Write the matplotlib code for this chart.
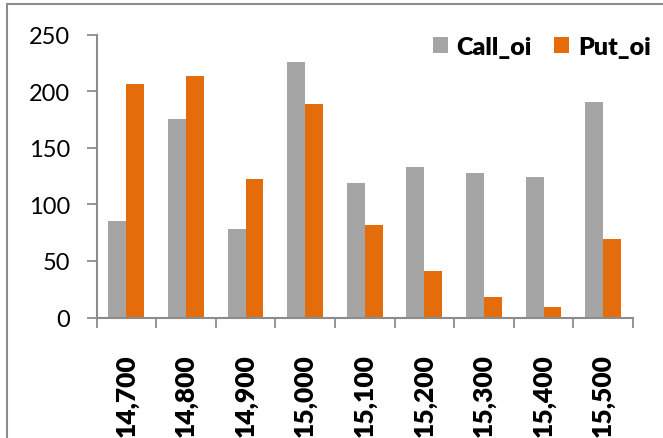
import matplotlib.pyplot as plt
import numpy as np
from matplotlib.patches import Rectangle

strikes = ["14,700", "14,800", "14,900", "15,000", "15,100",
           "15,200", "15,300", "15,400", "15,500"]
call_oi = [85, 175, 78, 226, 119, 133, 128, 124, 190]
put_oi = [206, 213, 122, 189, 82, 41, 18, 9, 69]

plt.rcParams['font.family'] = ['Lato', 'DejaVu Sans']

fig = plt.figure(figsize=(6.63, 4.39), dpi=100)
ax = fig.add_axes([96.5 / 663, 1 - 318.5 / 439, (633 - 96.5) / 663, (318.5 - 35.5) / 439])

# chart area border (runs off the right and bottom edge)
fig.patches.append(Rectangle((7 / 663, -0.1), 1.0, 1 - 5 / 439 + 0.1,
                             transform=fig.transFigure, fill=False,
                             edgecolor='#8c8c8c', linewidth=1.5))

x = np.arange(len(strikes))
w = 0.3
ax.bar(x - w / 2, call_oi, w, color='#a5a5a5', label='Call_oi')
ax.bar(x + w / 2, put_oi, w, color='#e46c0a', label='Put_oi')

ax.set_xlim(-0.5, len(strikes) - 0.5)
ax.set_ylim(0, 250)
ax.set_yticks(range(0, 251, 50))
ax.tick_params(axis='y', labelsize=17, length=7, width=1.3, color='#8c8c8c', pad=12)

ax.set_xticks(np.arange(len(strikes) + 1) - 0.5)
ax.set_xticklabels([])
ax.set_xticks(x, minor=True)
ax.set_xticklabels(strikes, minor=True, rotation=90, fontsize=19, fontweight='heavy')
ax.tick_params(axis='x', which='major', length=7, width=1.3, color='#8c8c8c')
ax.tick_params(axis='x', which='minor', length=0, pad=26)

for s in ['top', 'right']:
    ax.spines[s].set_visible(False)
for s in ['left', 'bottom']:
    ax.spines[s].set_color('#8c8c8c')
    ax.spines[s].set_linewidth(1.5)

ax.legend(loc='upper right', bbox_to_anchor=(1.075, 1.075), ncol=2, frameon=False,
          prop={'size': 18, 'weight': 'heavy'}, handlelength=0.6, handleheight=0.6,
          handletextpad=0.35, columnspacing=0.9)

plt.savefig('out.png', dpi=100)
